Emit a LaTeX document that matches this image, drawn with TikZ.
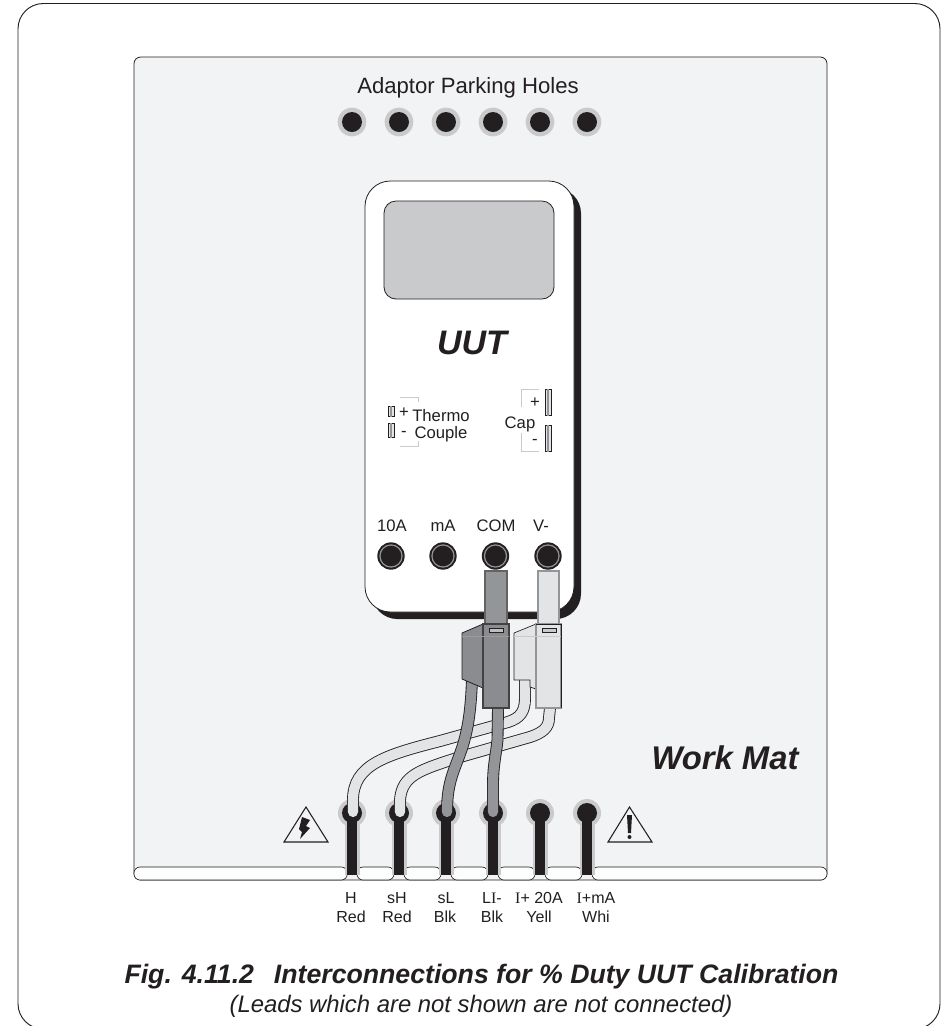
\documentclass[tikz,border=0pt]{standalone}
\usepackage{fontspec}
\setmainfont{Liberation Sans}
\newfontfamily\serfam{Liberation Serif}
\newcommand{\px}[1]{\fontsize{#1}{#1}\selectfont}
\definecolor{matc}{HTML}{F1F3F5}
\definecolor{ink}{HTML}{231F20}
\definecolor{ringc}{HTML}{C8CACC}
\definecolor{darkc}{HTML}{939598}
\definecolor{lightc}{HTML}{E3E4E6}
\definecolor{dispc}{HTML}{C8CACC}
\tikzset{
  every node/.style={inner sep=0pt,outer sep=0pt,text=ink},
  lbl/.style={font=\px{12},anchor=base},
  small/.style={font=\px{12.5},anchor=base},
  frameline/.style={draw=ink,line width=0.6pt},
  holeo/.style={circle,fill=ringc,minimum size=21.5pt},
  holei/.style={circle,fill=ink,minimum size=15pt},
  jacko/.style={circle,fill=ink,minimum size=20.5pt},
  jackm/.style={circle,fill=darkc,minimum size=17.5pt},
  jacki/.style={circle,fill=ink,minimum size=15.5pt},
  stripseg/.style={draw=ink,fill=white!80!matc,line width=0.5pt,rounded corners=4.5pt,anchor=north west,minimum height=9.75pt},
  tiny/.style={draw=ink,fill=lightc,line width=0.6pt,minimum width=4.5pt},
  tinyline/.style={draw=darkc,line width=0.8pt},
  bracket/.style={draw=ringc,line width=0.5pt},
}
\newcommand{\cable}[2]{%
  \draw[ink,line width=8.9pt,line cap=round] #2;
  \draw[#1,line width=7.6pt,line cap=round] #2;}
\begin{document}
\begin{tikzpicture}[x=0.75pt,y=-0.75pt]
\useasboundingbox (0,0) rectangle (948,1026);
\fill[white] (0,0) rectangle (948,1026);
% outer frame
\begin{scope}
\clip (0,0) rectangle (948,1026);
\draw[ink,line width=0.7pt,rounded corners=19pt] (18,3.5) rectangle (940,1029);
\end{scope}
% mat
\draw[frameline,fill=matc,rounded corners=5pt] (134,57) rectangle (827,880);
% parking holes
\node[font=\px{16.6},anchor=base] (ptitle) at (468,93) {Adaptor Parking Holes};
\foreach \n/\x in {a/352,b/399,c/446,d/493,e/540,f/587}{
  \node[holeo] (po\n) at (\x,122) {};
  \node[holei] (pi\n) at (\x,122) {};
}
% UUT
\fill[ink,rounded corners=19pt] (372,188) rectangle (581,619);
\draw[ink,line width=0.6pt,fill=white,rounded corners=19pt] (365,181) rectangle (574,612);
\draw[ink,fill=dispc,line width=0.6pt,rounded corners=9pt] (384,201) rectangle (554,299);
\node[font=\bfseries\itshape\px{25.5},anchor=base] (uut) at (472,354) {UUT};
% Thermo
\node[tiny,minimum height=8pt] (t1) at (391,411.5) {};
\node[tiny,minimum height=11pt] (t2) at (391,430.5) {};
\draw[tinyline] (t1.north) -- (t1.south);
\draw[tinyline] (t2.north) -- (t2.south);
\node[small] (tp) at (404,417) {+};
\node[small] (tm) at (404,436) {-};
\node[small] (th) at (441,421) {Thermo};
\node[small] (co) at (441,438) {Couple};
\draw[bracket] (400,397) -- (418,397) -- (418,402);
\draw[bracket] (400,446) -- (418,446) -- (418,441);
% Cap
\node[tiny,minimum height=20pt] (c1) at (548,402.5) {};
\node[tiny,minimum height=20pt] (c2) at (548,438.5) {};
\draw[tinyline] (c1.north) -- (c1.south);
\draw[tinyline] (c2.north) -- (c2.south);
\node[small] (cp) at (535,407) {+};
\node[small] (cm) at (535,444) {-};
\node[small] (cap) at (520,428) {Cap};
\draw[bracket] (521,407) -- (521,389) -- (539,389);
\draw[bracket] (521,433) -- (521,451) -- (539,451);
% jacks
\foreach \n/\x/\lx/\t in {a/391/392/10A,b/443/443/mA,c/495.5/496/COM,d/548/541/V-}{
  \node[jacko] (jo\n) at (\x,556) {};
  \node[jackm] (jm\n) at (\x,556) {};
  \node[jacki] (ji\n) at (\x,556) {};
  \node[small] (jt\n) at (\lx,531) {\t};
}
% strip
\node[stripseg,minimum width=160pt] (s0) at (134,867) {};
\foreach \n/\l in {a/357,b/404,c/451,d/498,e/545}{
  \node[stripseg,minimum width=27.75pt] (s\n) at (\l,867) {};
}
\node[stripseg,minimum width=176.25pt] (s6) at (592,867) {};
% terminals
\foreach \n/\x in {a/352,b/399,c/446,d/493,e/540,f/587}{
  \fill[ringc] (\x-7.5,813) rectangle (\x+7.5,875);
  \node[circle,fill=ringc,minimum size=21pt] (tr\n) at (\x,813) {};
  \fill[ink] (\x-5.2,813) rectangle (\x+5.2,875);
  \node[circle,fill=ink,minimum size=15pt] (tb\n) at (\x,813) {};
}
% warning triangles
\draw[ink,line width=0.8pt,line join=miter] (306,807) -- (328,842) -- (284,842) -- cycle;
\fill[ink] (302,817) -- (310,820) -- (306,826) -- (310,828) -- (300,839) -- (302,832) -- (299,829) -- cycle;
\draw[ink,line width=0.8pt,line join=miter] (629.5,807) -- (652,842) -- (608,842) -- cycle;
\fill[ink] (627,815) -- (632,815) -- (631,833) -- (628,833) -- cycle;
\fill[ink] (629.5,837) circle[radius=2];
% white leads
\cable{lightc}{(525,680) -- (525,698) .. controls (525,712) and (520,718) .. (508,722) -- (440,741) .. controls (385,755) and (353,765) .. (353,800) -- (353,812)}
\cable{lightc}{(550,708) -- (549,718) .. controls (549,728) and (542,733) .. (530,737) -- (460,757) .. controls (420,770) and (402,775) .. (400,800) -- (400,812)}
% dark leads
\cable{darkc}{(472,680) .. controls (471,705) and (469,725) .. (463,745) .. controls (455,770) and (447,780) .. (447,812)}
\cable{darkc}{(498,708) -- (497.5,740) .. controls (496,755) and (493,765) .. (493,785) -- (493,812)}
% black plug
\draw[ink,line width=0.6pt,fill=darkc!94!black] (483,624) -- (462,633) -- (462,679) -- (483,688) -- cycle;
\draw[ink!70,line width=0.8pt,fill=darkc] (485,571) rectangle (507,624);
\draw[ink!85,line width=0.8pt,fill=darkc!94!black] (483,624) rectangle (509,708);
\draw[ink!45,line width=0.6pt] (462,636) -- (509,636);
\draw[ink,line width=0.6pt,fill=ringc!80!darkc] (489,628) rectangle (503,632);
% white plug
\draw[ink,line width=0.5pt,fill=lightc] (536,624) -- (514,633) -- (514,680) -- (530,680) -- (530,687) -- (536,689) -- cycle;
\draw[darkc,line width=0.9pt,fill=lightc] (538,571) rectangle (559,624);
\draw[darkc,line width=0.9pt,fill=lightc] (536,624) rectangle (561,708);
\draw[ink,line width=0.5pt] (536,624) -- (561,624) -- (561,708);
\draw[ringc,line width=0.6pt] (514,636) -- (561,636);
\draw[ink,line width=0.5pt,fill=ringc] (542,628) rectangle (556,632);
% work mat
\node[font=\bfseries\itshape\px{24.6},anchor=base] (wm) at (725,769) {Work Mat};
% lead labels
\node[lbl] (l1) at (351,903) {H};
\node[lbl] (l1b) at (351,922) {Red};
\node[lbl] (l2) at (397,903) {sH};
\node[lbl] (l2b) at (397,922) {Red};
\node[lbl] (l3) at (446,903) {sL};
\node[lbl] (l3b) at (445,922) {Blk};
\node[lbl] (l4) at (492,903) {L{\serfam I}-};
\node[lbl] (l4b) at (492,922) {Blk};
\node[lbl] (l5) at (539,903) {{\serfam I}+ 20A};
\node[lbl] (l5b) at (539,922) {Yell};
\node[lbl] (l6) at (596,903) {{\serfam I}+mA};
\node[lbl] (l6b) at (596,922) {Whi};
% captions
\node[font=\bfseries\itshape\px{20},anchor=base] (cap1) at (481.5,983) {Fig. 4.11.2\hspace{0.75em}Interconnections for \% Duty UUT Calibration};
\node[font=\itshape\px{17.9},anchor=base] (cap2) at (481,1012) {(Leads which are not shown are not connected)};
\end{tikzpicture}
\end{document}
